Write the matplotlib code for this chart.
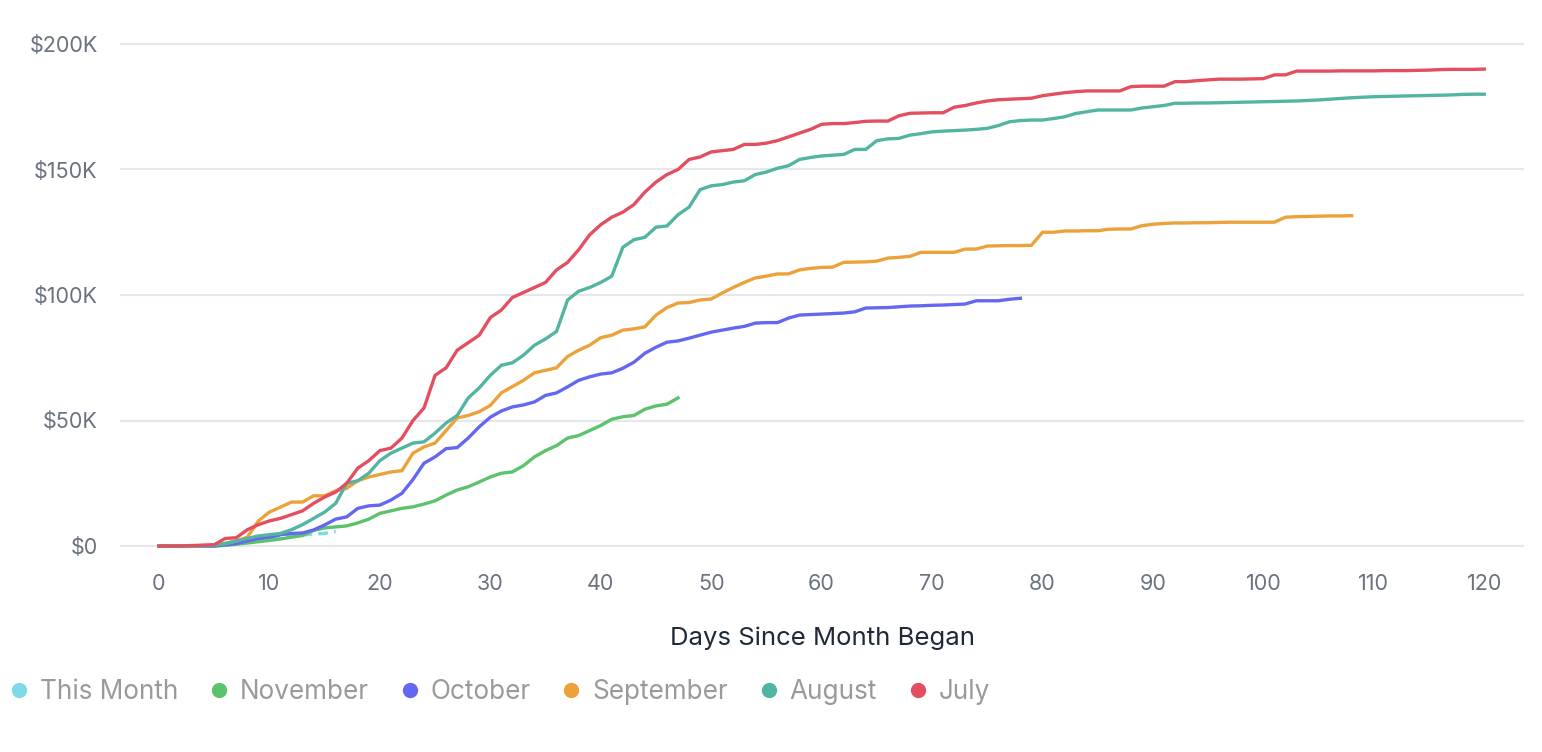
import matplotlib
matplotlib.use('Agg')
import matplotlib.pyplot as plt
from matplotlib.lines import Line2D
import numpy as np

plt.rcParams['font.family'] = ['Inter', 'DejaVu Sans']

# cumulative revenue in $K, one value per day since month began
this_month = [0, 0, 0, 0, 0, 0, 0.3, 0.8, 1.5, 2.2, 2.8, 3.4, 4, 4.4, 4.8, 5.0, 5.8]

november = [0, 0, 0, 0, 0, 0, 0.3, 0.7, 1.2, 1.7, 2.2, 2.8, 3.5, 4.2, 6.2, 7.2, 7.6, 8, 9.2, 10.7,
            13, 14, 15, 15.6, 16.7, 18, 20.3, 22.3, 23.6, 25.5, 27.5, 29, 29.5, 32, 35.5, 38, 40, 43,
            44, 46, 48, 50.5, 51.5, 52, 54.5, 55.8, 56.5, 59]

october = [0, 0, 0, 0, 0, 0, 0.5, 1, 2, 3, 3.5, 4.5, 5, 5.2, 6.4, 8.4, 10.7, 11.6, 15, 16,
           16.3, 18.3, 21, 26.5, 33, 35.5, 38.8, 39.2, 43, 47.5, 51.3, 53.8, 55.4, 56.2, 57.4, 60,
           61, 63.4, 66, 67.4, 68.5, 69, 70.8, 73.2, 76.8, 79.2, 81.2, 81.7, 82.8, 84, 85.2, 86,
           86.8, 87.5, 88.8, 89, 89, 90.8, 92, 92.2, 92.4, 92.6, 92.8, 93.3, 94.8, 94.9, 95, 95.3,
           95.6, 95.7, 95.9, 96, 96.2, 96.4, 97.7, 97.7, 97.7, 98.3, 98.7]

september = [0, 0, 0, 0, 0.3, 0.5, 1, 2, 3.5, 10, 13.5, 15.5, 17.5, 17.5, 20, 20, 22, 23, 26, 27.5,
             28.5, 29.5, 30, 37, 39.5, 41, 46, 51, 52, 53.5, 56, 61, 63.5, 66, 69, 70, 71, 75.5,
             78, 80, 83, 84, 86, 86.5, 87.3, 92, 95, 96.8, 97, 98, 98.4, 100.8, 103, 105, 106.8,
             107.5, 108.4, 108.4, 110, 110.6, 111, 111.1, 113, 113.1, 113.2, 113.5, 114.7, 115,
             115.4, 117, 117, 117, 117, 118.3, 118.3, 119.5, 119.6, 119.7, 119.7, 119.8, 125, 125,
             125.5, 125.5, 125.6, 125.6, 126.2, 126.3, 126.3, 127.6, 128.2, 128.5, 128.7, 128.7,
             128.8, 128.8, 128.9, 129, 129, 129, 129, 129, 131, 131.2, 131.3, 131.4, 131.5, 131.5,
             131.6]

august = [0, 0, 0, 0, 0, 0.2, 1, 2, 3, 4, 4.5, 5, 6.5, 8.5, 11, 13.5, 17, 25, 26, 29,
          34, 37, 39, 41, 41.5, 45, 49, 52, 59, 63, 68, 72, 73, 76, 80, 82.5, 85.5, 98, 101.5, 103,
          105, 107.5, 119, 122, 123, 127, 127.5, 132, 135, 142, 143.5, 144, 145, 145.5, 148, 149,
          150.5, 151.5, 154, 154.8, 155.4, 155.7, 156, 158, 158, 161.5, 162.2, 162.4, 163.7, 164.3,
          165, 165.3, 165.5, 165.7, 166, 166.4, 167.5, 169, 169.5, 169.7, 169.7, 170.3, 171, 172.3,
          173, 173.7, 173.7, 173.7, 173.7, 174.5, 175, 175.5, 176.4, 176.4, 176.5, 176.5, 176.6,
          176.7, 176.8, 176.9, 177, 177.1, 177.2, 177.3, 177.5, 177.7, 178, 178.3, 178.6, 178.8,
          179, 179.1, 179.2, 179.3, 179.4, 179.5, 179.6, 179.7, 179.9, 180, 180]

july = [0, 0, 0, 0.2, 0.3, 0.5, 3, 3.3, 6.5, 8.5, 10, 11, 12.5, 14, 17, 19.5, 21.5, 25, 31, 34,
        38, 39, 43, 50, 55, 68, 71, 78, 81, 84, 91, 94, 99, 101, 103, 105, 110, 113, 118, 124,
        128, 131, 133, 136, 141, 145, 148, 150, 154, 155, 157, 157.5, 158, 160, 160, 160.5, 161.5,
        163, 164.5, 166, 168, 168.3, 168.3, 168.7, 169.2, 169.3, 169.3, 171.4, 172.4, 172.5,
        172.6, 172.6, 174.8, 175.5, 176.5, 177.3, 177.8, 178, 178.2, 178.4, 179.4, 180, 180.6,
        181, 181.3, 181.3, 181.3, 181.3, 183, 183.2, 183.2, 183.2, 185, 185, 185.4, 185.7, 186,
        186, 186, 186.1, 186.2, 187.7, 187.7, 189.2, 189.2, 189.2, 189.2, 189.3, 189.3, 189.3,
        189.3, 189.4, 189.4, 189.4, 189.5, 189.6, 189.8, 189.9, 189.9, 189.9, 190]

labels = ['This Month', 'November', 'October', 'September', 'August', 'July']
series = [this_month, november, october, september, august, july]
colors = ['#80d8e8', '#5cc36c', '#6467ef', '#eca23a', '#52b5a2', '#e34f60']

fig = plt.figure(figsize=(15.42, 7.52), dpi=100)
ax = fig.add_axes([120 / 1542, 1 - 556 / 752, 1404 / 1542, 516 / 752])

for i, (lab, vals, c) in enumerate(zip(labels, series, colors)):
    days = np.arange(len(vals))
    ls = (0, (3, 1.8)) if lab == 'This Month' else '-'
    ax.plot(days, vals, color=c, lw=2.4, ls=ls, solid_joinstyle='miter', zorder=2 + i)

ax.set_xlim(-3.53, 123.6)
ax.set_ylim(-10 / 2.51, 200 + 4 / 2.51)
ax.set_xticks(np.arange(0, 121, 10))
ax.set_yticks([0, 50, 100, 150, 200])
ax.set_yticklabels(['$0', '$50K', '$100K', '$150K', '$200K'])
ax.tick_params(axis='both', length=0, labelsize=15.5, colors='#6b7280')
ax.tick_params(axis='y', pad=16)
ax.tick_params(axis='x', pad=13)
for s in ax.spines.values():
    s.set_visible(False)
ax.grid(axis='y', color='#e5e7eb', lw=1.5)
ax.set_axisbelow(True)
ax.set_xlabel('Days Since Month Began', fontsize=18.5, color='#1f2937', labelpad=23.5)

handles = [Line2D([], [], ls='none', marker='o', ms=10, color=c) for c in colors]
fig.legend(handles, labels, loc='center left', bbox_to_anchor=(8.6 / 1542, 1 - 692 / 752),
           ncol=6, frameon=False, fontsize=18.8, labelcolor='#9a9a9a',
           handlelength=0.8, handletextpad=0.4, columnspacing=1.16,
           borderpad=0, borderaxespad=0)

fig.savefig('out.png', dpi=100)
